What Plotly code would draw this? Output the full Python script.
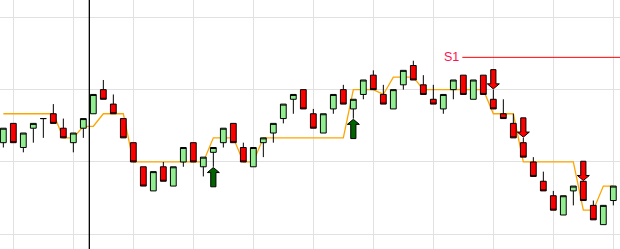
import plotly.graph_objects as go

# ---- data (price units) ----
idx = list(range(62))
opens = [19,23,18,22,24,25,22,19,22,25,30,27,24,19,14,9,14,10,15,19,
         14,17,19,23,18,14,19,21,24,28,30,25,21,26,30,26,29,33,29,26,
         31,35,31,28,26,30,33,28,33,28,25,23,19,15,11,8,4,9,11,6,2,7]
highs = [22,23,21,23,24,27,24,21,24,29,32,29,24,19,14,13,15,14,18,19,
         16,18,22,23,19,18,20,23,27,29,30,26,25,29,31,28,32,34,31,30,
         34,36,33,31,29,32,33,32,33,30,28,25,20,16,13,9,8,10,11,7,6,10]
lows = [18,19,17,19,20,23,20,17,20,25,28,25,20,15,10,9,11,10,14,15,
        12,14,18,19,15,14,16,19,23,25,26,22,21,25,27,24,28,30,27,26,
        30,32,29,27,25,28,29,28,29,26,24,20,16,12,9,5,4,6,7,3,2,6]
closes = [22,19,21,23,24,23,20,21,24,29,28,25,20,15,10,13,11,14,18,15,
          16,18,22,19,15,18,20,23,27,29,26,22,25,29,27,28,32,30,27,30,
          34,32,29,27,29,32,29,32,29,26,24,20,16,12,9,5,8,10,7,3,6,10]
trail = [25,25,25,25,25,25,20,20,22.4,22.4,25,25,25,15,15,15,15,15,15,15,
         15,20,20,20,15,15,20,20,20,20,20,20,20,20,20,30,30,30,29,32.6,
         32.6,32.6,30,30,30,30,30,30,30,25,25,25,15,15,15,15,15,15,5,5,
         10,10]
buy_signals = [21, 35]
sell_signals = [49, 52, 58]
s1_level = 36.7
s1_start = 45.9
s1_label = "S1"
cursor_x = 8.6

X_RANGE = [-0.333, 61.667]
Y_RANGE = [-3.05, 48.59]

fig = go.Figure()

# trailing line on the base axes (drawn beneath the candle overlay)
fig.add_trace(go.Scatter(x=idx, y=trail, mode="lines",
                         line=dict(color="#FFA500", width=1.3),
                         hoverinfo="skip", showlegend=False,
                         xaxis="x", yaxis="y"))

fig.add_trace(go.Candlestick(
    x=idx, open=opens, high=highs, low=lows, close=closes,
    increasing=dict(fillcolor="#90EE90", line=dict(color="black", width=1)),
    decreasing=dict(fillcolor="#FF0000", line=dict(color="black", width=1)),
    whiskerwidth=0, showlegend=False, xaxis="x2", yaxis="y2"))

# arrows
HW, SW, HH, LEN, GAP = 0.6, 0.26, 1.05, 4.0, 0.15


def arrow(xc, tip, d):
    # d = +1: pointing up (tail below tip); d = -1: pointing down
    t = tip
    xs = [xc, xc + HW, xc + SW, xc + SW, xc - SW, xc - SW, xc - HW, xc]
    ys = [t, t - d * HH, t - d * HH, t - d * LEN, t - d * LEN, t - d * HH, t - d * HH, t]
    return xs, ys


for i in buy_signals:
    xs, ys = arrow(i, lows[i] - GAP, 1)
    fig.add_trace(go.Scatter(x=xs, y=ys, mode="lines", fill="toself",
                             fillcolor="#006400", line=dict(color="black", width=1),
                             hoverinfo="skip", showlegend=False,
                             xaxis="x2", yaxis="y2"))
for i in sell_signals:
    xs, ys = arrow(i, highs[i] + GAP, -1)
    fig.add_trace(go.Scatter(x=xs, y=ys, mode="lines", fill="toself",
                             fillcolor="#FF0000", line=dict(color="black", width=1),
                             hoverinfo="skip", showlegend=False,
                             xaxis="x2", yaxis="y2"))

# S1 level
fig.add_shape(type="line", xref="x", yref="y", x0=s1_start, x1=70,
              y0=s1_level, y1=s1_level, line=dict(color="#FF0000", width=1))
fig.add_annotation(x=s1_start - 0.15, y=s1_level, text=s1_label, showarrow=False,
                   xanchor="right", yanchor="middle",
                   font=dict(family="Arial, Liberation Sans, sans-serif", size=12.5, color="#FF1050"))

# cursor line
fig.add_shape(type="line", xref="x", yref="paper", x0=cursor_x, x1=cursor_x,
              y0=0, y1=1, line=dict(color="black", width=1.3), layer="above")

fig.update_layout(
    width=620, height=249, margin=dict(l=0, r=0, t=0, b=0),
    paper_bgcolor="white", plot_bgcolor="white", showlegend=False,
    boxgap=0.42, boxgroupgap=0,
    xaxis=dict(range=X_RANGE, showticklabels=False, showgrid=True,
               gridcolor="#E1E1E1", gridwidth=1, tick0=1, dtick=6, zeroline=False,
               showline=False, ticks=""),
    yaxis=dict(range=Y_RANGE, showticklabels=False, showgrid=True,
               gridcolor="#E1E1E1", gridwidth=1, tick0=0, dtick=15, zeroline=False,
               showline=False, ticks=""),
    xaxis2=dict(range=X_RANGE, overlaying="x", visible=False,
                rangeslider=dict(visible=False), showgrid=False, zeroline=False),
    yaxis2=dict(range=Y_RANGE, overlaying="y", visible=False,
                showgrid=False, zeroline=False),
)

fig.write_html("out.html")
